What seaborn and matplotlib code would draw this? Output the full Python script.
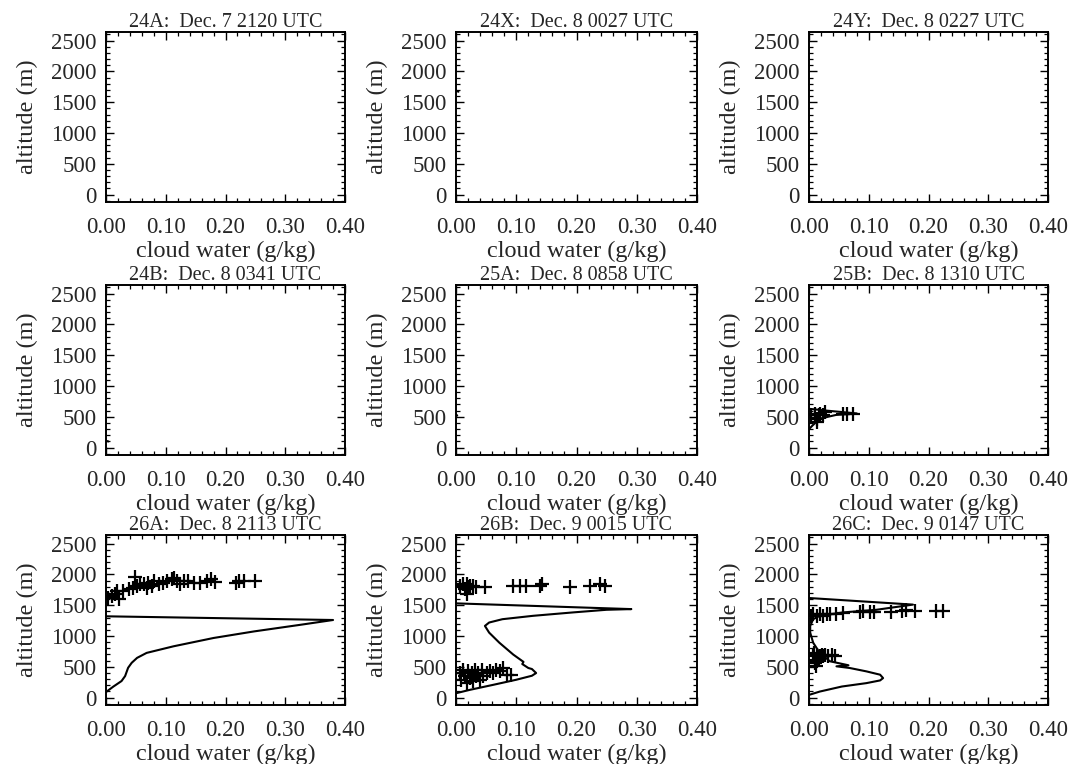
import numpy as np
import matplotlib
matplotlib.use("Agg")
import matplotlib.pyplot as plt
from matplotlib.ticker import MultipleLocator, FormatStrFormatter
import seaborn as sns

sns.set_theme(style="ticks")
plt.rcParams['font.family'] = ['Liberation Serif', 'DejaVu Serif']
plt.rcParams['mathtext.fontset'] = 'stix'

titles = [
    "24A:  Dec. 7 2120 UTC", "24X:  Dec. 8 0027 UTC", "24Y:  Dec. 8 0227 UTC",
    "24B:  Dec. 8 0341 UTC", "25A:  Dec. 8 0858 UTC", "25B:  Dec. 8 1310 UTC",
    "26A:  Dec. 8 2113 UTC", "26B:  Dec. 9 0015 UTC", "26C:  Dec. 9 0147 UTC",
]

x_ticks = [0.0, 0.1, 0.2, 0.3, 0.4]
y_ticks = [0, 500, 1000, 1500, 2000, 2500]

# ---- model profiles (cloud water g/kg vs altitude m) ----
line_24A_x, line_24A_z = [], []
line_24X_x = [0.0, 0.004]
line_24X_z = [1690, 1670]
line_24Y_x, line_24Y_z = [], []
line_24B_x = [0.0, 0.004]
line_24B_z = [110, 100]
line_25A_x = [0.0, 0.002]
line_25A_z = [540, 520]
line_25B_x = [0.0, 0.006, 0.018, 0.045, 0.080, 0.030, 0.0]
line_25B_z = [300, 360, 470, 530, 555, 600, 630]
line_26A_x = [0.0, 0.012, 0.026, 0.032, 0.037, 0.043, 0.052, 0.068, 0.113,
              0.180, 0.248, 0.326, 0.380, 0.0]
line_26A_z = [90, 177, 269, 350, 484, 565, 645, 726, 833,
              968, 1075, 1183, 1260, 1320]
line_26B_x = [0.0, 0.023, 0.062, 0.100, 0.126, 0.133, 0.126, 0.120, 0.110,
              0.112, 0.095, 0.072, 0.055, 0.048, 0.055, 0.077, 0.128, 0.194,
              0.250, 0.291, 0.0]
line_26B_z = [71, 126, 208, 290, 355, 399, 464, 481, 545,
              580, 699, 891, 1055, 1164, 1219, 1273, 1328, 1383,
              1426, 1437, 1530]
line_26C_x = [0.0, 0.018, 0.055, 0.096, 0.119, 0.124, 0.119, 0.096, 0.068,
              0.046, 0.066, 0.035, 0.018, 0.007, 0.002, 0.002, 0.007, 0.018,
              0.057, 0.113, 0.174, 0.0]
line_26C_z = [44, 98, 180, 235, 279, 317, 372, 426, 481,
              508, 525, 590, 727, 891, 1055, 1164, 1273, 1328,
              1383, 1426, 1510, 1617]

# ---- observations ----
obs_25B_x = [0.004, 0.010, 0.013, 0.016, 0.018, 0.024, 0.027, 0.057, 0.063, 0.074, 0.013]
obs_25B_z = [522, 549, 467, 522, 549, 522, 576, 549, 549, 549, 413]

obs_26A_x = [0.004, 0.010, 0.015, 0.021, 0.018, 0.029, 0.038, 0.046, 0.049, 0.052,
             0.057, 0.063, 0.068, 0.071, 0.077, 0.080, 0.088, 0.096, 0.102, 0.110,
             0.113, 0.119, 0.124, 0.130, 0.138, 0.147, 0.158, 0.169, 0.175, 0.183,
             0.217, 0.222, 0.231, 0.250]
obs_26A_z = [1622, 1650, 1677, 1606, 1731, 1731, 1758, 1786, 1965, 1813,
             1840, 1840, 1786, 1867, 1813, 1894, 1840, 1867, 1894, 1932,
             1949, 1894, 1840, 1894, 1894, 1867, 1867, 1894, 1921, 1878,
             1867, 1894, 1894, 1894]

obs_26B_x = [0.007, 0.012, 0.015, 0.018, 0.020, 0.023, 0.029, 0.034, 0.048, 0.095,
             0.106, 0.117, 0.139, 0.142, 0.189, 0.222, 0.239, 0.247, 0.019,
             0.007, 0.009, 0.012, 0.015, 0.018, 0.020, 0.023, 0.026, 0.029, 0.031,
             0.034, 0.037, 0.040, 0.043, 0.045, 0.051, 0.056, 0.062, 0.067, 0.073,
             0.078, 0.084, 0.092]
obs_26B_z = [1820, 1847, 1765, 1847, 1792, 1820, 1820, 1792, 1792, 1820,
             1820, 1820, 1820, 1847, 1792, 1820, 1847, 1820, 1683,
             399, 290, 454, 344, 235, 426, 317, 399, 262, 454,
             344, 399, 290, 454, 344, 399, 426, 399, 454, 426,
             481, 372, 372]

obs_26C_x = [0.004, 0.007, 0.013, 0.018, 0.024, 0.030, 0.035, 0.046, 0.057, 0.085,
             0.091, 0.102, 0.108, 0.138, 0.155, 0.163, 0.177, 0.213, 0.225,
             0.007, 0.008, 0.010, 0.010, 0.012, 0.013, 0.013, 0.016, 0.018, 0.021,
             0.024, 0.027, 0.032, 0.038, 0.043]
obs_26C_z = [1328, 1355, 1328, 1355, 1328, 1355, 1355, 1355, 1366, 1383,
             1410, 1383, 1383, 1393, 1410, 1426, 1410, 1410, 1410,
             672, 727, 617, 563, 508, 699, 590, 645, 672, 699,
             672, 699, 672, 699, 672]

lines = [(line_24A_x, line_24A_z), (line_24X_x, line_24X_z), (line_24Y_x, line_24Y_z),
         (line_24B_x, line_24B_z), (line_25A_x, line_25A_z), (line_25B_x, line_25B_z),
         (line_26A_x, line_26A_z), (line_26B_x, line_26B_z), (line_26C_x, line_26C_z)]
obs = [None, None, None, None, None, (obs_25B_x, obs_25B_z),
       (obs_26A_x, obs_26A_z), (obs_26B_x, obs_26B_z), (obs_26C_x, obs_26C_z)]

W, H = 1073, 764
fig = plt.figure(figsize=(W / 100, H / 100), dpi=100)
col_left = [106, 456, 809]
col_w = [239, 241, 239]
row_bottom = [202, 455, 705]
ax_h = 170

for i in range(9):
    r, c = divmod(i, 3)
    ax = fig.add_axes([col_left[c] / W, 1 - row_bottom[r] / H, col_w[c] / W, ax_h / H])
    lx, lz = lines[i]
    if len(lx):
        sns.lineplot(x=lx, y=lz, sort=False, estimator=None, color='black',
                     linewidth=1.5, ax=ax)
    if obs[i] is not None:
        ox, oz = obs[i]
        sns.scatterplot(x=ox, y=oz, marker='+', s=110, color='black',
                        linewidths=1.6, ax=ax, legend=False)
    ax.set_xlim(0, 0.4)
    ax.set_ylim(-120, 2640)
    ax.set_xticks(x_ticks)
    ax.set_yticks(y_ticks)
    ax.xaxis.set_major_formatter(FormatStrFormatter('%.2f'))
    ax.xaxis.set_minor_locator(MultipleLocator(0.02))
    ax.yaxis.set_minor_locator(MultipleLocator(100))
    ax.tick_params(which='both', direction='in', top=True, right=True,
                   color='black', labelsize=16.5)
    ax.tick_params(axis='x', which='major', pad=11)
    ax.tick_params(axis='y', which='major', pad=7)
    ax.tick_params(which='major', length=6, width=1.0)
    ax.tick_params(which='minor', length=3, width=0.9)
    for sp in ax.spines.values():
        sp.set_color('black')
        sp.set_linewidth(1.4)
    ax.set_xlabel("cloud water (g/kg)", fontsize=17.5, labelpad=2)
    ax.set_ylabel("altitude (m)", fontsize=17.5, labelpad=9)
    ax.set_title(titles[i], fontsize=14.5, pad=3)
    ax.set_facecolor('white')

fig.patch.set_facecolor('white')
fig.savefig("out.png", dpi=100, facecolor='white')
